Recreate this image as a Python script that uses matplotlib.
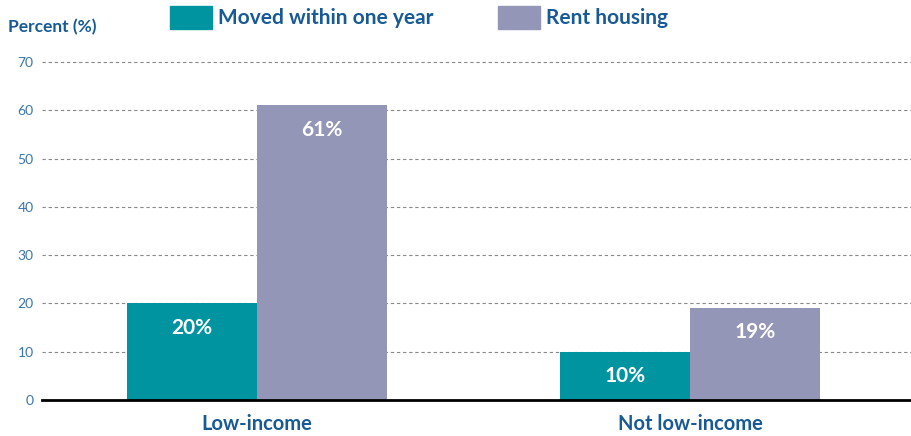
import matplotlib.pyplot as plt
import numpy as np
from matplotlib.patches import Patch

plt.rcParams['font.family'] = ['Lato', 'DejaVu Sans']

# Datos del gráfico
categorias = ['Low-income', 'Not low-income']
series = ['Moved within one year', 'Rent housing']
mudanza = [20, 10]
alquiler = [61, 19]
yticks = [0, 10, 20, 30, 40, 50, 60, 70]

teal = '#0094a0'
morado = '#9396b6'
azul = '#175a96'
azul_tick = '#3a76ad'

fig = plt.figure(figsize=(9.11, 4.36), dpi=100)
ax = fig.add_axes([42 / 911, 1 - 400 / 436, 869 / 911, 338 / 436])

x = np.arange(len(categorias))
ancho = 0.3
b1 = ax.bar(x - ancho / 2, mudanza, ancho, color=teal, zorder=3)
b2 = ax.bar(x + ancho / 2, alquiler, ancho, color=morado, zorder=3)

# Etiquetas dentro de las barras
for barras, vals in [(b1, mudanza), (b2, alquiler)]:
    for b, v in zip(barras, vals):
        ax.text(b.get_x() + b.get_width() / 2, v - 5, f'{v}%', ha='center',
                va='center', color='white', fontsize=15, fontweight='bold',
                zorder=4)

ax.set_xlim(-0.4965, 1.51)
ax.set_ylim(0, 70)
ax.set_yticks(yticks)
ax.set_xticks(x)
ax.set_xticklabels(categorias, fontsize=14.5, fontweight='bold', color=azul)
ax.tick_params(axis='x', length=0, pad=10)
ax.tick_params(axis='y', length=0, pad=6, labelsize=10, labelcolor=azul_tick)
ax.yaxis.grid(True, linestyle=(0, (3, 2.5)), color='#888888', linewidth=0.8,
              zorder=0)
for s in ['top', 'right', 'left']:
    ax.spines[s].set_visible(False)
ax.spines['bottom'].set_linewidth(2)
ax.spines['bottom'].set_color('black')
ax.spines['bottom'].set_zorder(5)
for gl in ax.yaxis.get_gridlines():
    gl.set_clip_on(False)

fig.text(8 / 911, 1 - 27 / 436, 'Percent (%)', fontsize=12.5, fontweight='bold',
         color=azul, va='center', ha='left')

handles = [Patch(color=teal), Patch(color=morado)]
fig.legend(handles, series, loc='upper left', ncol=2,
           bbox_to_anchor=(170 / 911, 1 - 6 / 436), frameon=False,
           prop={'size': 15, 'weight': 'bold'}, labelcolor=azul,
           handlelength=2.0, handleheight=1.3, handletextpad=0.3,
           columnspacing=3.1, borderpad=0, borderaxespad=0)

plt.savefig('out.png', dpi=100)
